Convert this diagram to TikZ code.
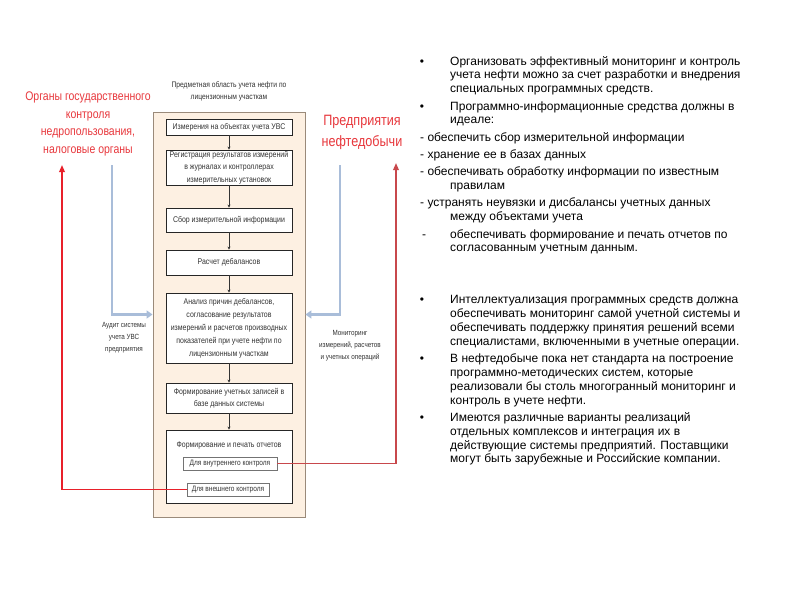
\documentclass[tikz,border=0pt]{standalone}
\usepackage{fontspec}
\setmainfont{Liberation Sans}
\newfontfamily\dfont[FakeStretch=0.84]{Liberation Sans}
\usetikzlibrary{arrows.meta}
\definecolor{panelfill}{HTML}{FDF0E2}
\definecolor{paneldraw}{HTML}{9A8A7A}
\definecolor{redA}{HTML}{E8202A}
\definecolor{redB}{HTML}{C8484C}
\definecolor{redT}{HTML}{E8383D}
\definecolor{blueA}{HTML}{A9BDD9}
\definecolor{txtg}{HTML}{333333}
\newcommand\tline[4]{\node[rtext,anchor=base west] (#1) at (#2,#3) {#4};}
\newcommand\bul[3]{\node[rtext,anchor=base] (#1) at (#2,#3) {•};}
\begin{document}
\begin{tikzpicture}[x=1pt,y=-1pt,
  panel/.style={draw=paneldraw, fill=panelfill, line width=0.9pt, minimum width=152pt, minimum height=405pt, inner sep=0pt},
  box/.style={draw=black!85, fill=white, line width=0.9pt, minimum width=126pt, align=center, inner sep=1pt, text=txtg, font=\dfont\fontsize{8.3}{12.5}\selectfont},
  sub/.style={draw=black!55, fill=white, line width=0.6pt, inner sep=1pt, text=txtg, font=\dfont\fontsize{7.8}{9}\selectfont},
  flow/.style={-{Stealth[length=3pt,width=3pt]}, black!80, line width=0.6pt},
  redarr/.style={-{Triangle[length=7pt,width=5.5pt]}, line width=1.6pt},
  bluearr/.style={-{Triangle[length=6pt,width=8pt]}, line width=2.2pt, color=blueA},
  lbl/.style={align=center, text=txtg, font=\dfont\fontsize{7.5}{12}\selectfont},
  redtxt/.style={align=center, text=redT},
  rtext/.style={inner sep=0pt, text=black, font=\fontsize{12}{14}\selectfont}
]
\useasboundingbox[fill=white] (0,0) rectangle (800,600);

% panel
\node[panel] (panel) at (229,314.5) {};
\node[lbl, font=\dfont\fontsize{8}{12}\selectfont] (cap) at (229,91) {Предметная область учета нефти по\\лицензионным участкам};

% boxes
\node[box, minimum height=16pt] (b1) at (229,127) {Измерения на объектах учета УВС};
\node[box, minimum height=35pt] (b2) at (229,167.5) {Регистрация результатов измерений\\в журналах и контроллерах\\измерительных установок};
\node[box, minimum height=24pt] (b3) at (229,220) {Сбор измерительной информации};
\node[box, minimum height=25pt] (b4) at (229,262.5) {Расчет дебалансов};
\node[box, minimum height=70pt, font=\dfont\fontsize{8.3}{13}\selectfont] (b5) at (229,328) {Анализ причин дебалансов,\\согласование результатов\\измерений и расчетов производных\\показателей при учете нефти по\\лицензионным участкам};
\node[box, minimum height=30pt] (b6) at (229,398) {Формирование учетных записей в\\базе данных системы};
\node[box, minimum height=73pt] (b7) at (229,466.5) {};
\node[lbl, font=\dfont\fontsize{8.3}{12}\selectfont, anchor=base] (b7t) at (229,447.5) {Формирование и печать отчетов};
\node[sub, minimum width=94pt, minimum height=13pt] (s1) at (230,463.5) {Для внутреннего контроля};
\node[sub, minimum width=82pt, minimum height=13pt] (s2) at (228,489.5) {Для внешнего контроля};

\draw[flow] (b1) -- (b2);
\draw[flow] (b2) -- (b3);
\draw[flow] (b3) -- (b4);
\draw[flow] (b4) -- (b5);
\draw[flow] (b5) -- (b6);
\draw[flow] (b6) -- (b7);

% left and right headings
\node[redtxt, font=\dfont\fontsize{12.5}{17.5}\selectfont] (gov) at (88,124) {Органы государственного\\контроля\\недропользования,\\налоговые органы};
\node[redtxt, font=\dfont\fontsize{15}{21}\selectfont] (ent) at (362,132) {Предприятия\\нефтедобычи};

\coordinate (ltop) at (62,165);
\coordinate (rtop) at (396,163);
\draw[redarr, color=redA] (s2.west) -| (ltop);
\draw[redarr, color=redB] (s1.east) -| (rtop);

\coordinate (aud) at (112,165);
\coordinate (mon) at (340,165);
\draw[bluearr] (aud) |- (panel.west);
\draw[bluearr] (mon) |- (panel.east);

\node[lbl] (audl) at (124,338) {Аудит системы\\учета УВС\\предприятия};
\node[lbl] (monl) at (350,345.5) {Мониторинг\\измерений, расчетов\\и учетных операций};

% right text
\bul{p1}{422}{65}
\tline{t1}{450}{65}{Организовать эффективный мониторинг и контроль}
\tline{t2}{450}{78.5}{учета нефти можно за счет разработки и внедрения}
\tline{t3}{450}{92.3}{специальных программных средств.}
\bul{p2}{422}{110}
\tline{t4}{450}{110}{Программно-информационные средства должны в}
\tline{t5}{450}{123.5}{идеале:}
\tline{t6}{420}{141.7}{- обеспечить сбор измерительной информации}
\tline{t7}{420}{158.3}{- хранение ее в базах данных}
\tline{t8}{420}{175}{- обеспечивать обработку информации по известным}
\tline{t9}{450}{189}{правилам}
\tline{t10}{420}{206.7}{- устранять неувязки и дисбалансы учетных данных}
\tline{t11}{450}{220.7}{между объектами учета}
\tline{d1}{422}{238.3}{-}
\tline{t12}{450}{238.3}{обеспечивать формирование и печать отчетов по}
\tline{t13}{450}{251.7}{согласованным учетным данным.}
\bul{p3}{422}{303.3}
\tline{t14}{450}{303.3}{Интеллектуализация программных средств должна}
\tline{t15}{450}{317.3}{обеспечивать мониторинг самой учетной системы и}
\tline{t16}{450}{331.3}{обеспечивать поддержку принятия решений всеми}
\tline{t17}{450}{345}{специалистами, включенными в учетные операции.}
\bul{p4}{422}{362.7}
\tline{t18}{450}{362.7}{В нефтедобыче пока нет стандарта на построение}
\tline{t19}{450}{376.7}{программно-методических систем, которые}
\tline{t20}{450}{390.7}{реализовали бы столь многогранный мониторинг и}
\tline{t21}{450}{404.3}{контроль в учете нефти.}
\bul{p5}{422}{421.7}
\tline{t22}{450}{421.7}{Имеются различные варианты реализаций}
\tline{t23}{450}{435.7}{отдельных комплексов и интеграция их в}
\tline{t24}{450}{449.3}{действующие системы предприятий. Поставщики}
\tline{t25}{450}{462.7}{могут быть зарубежные и Российские компании.}
\end{tikzpicture}
\end{document}
